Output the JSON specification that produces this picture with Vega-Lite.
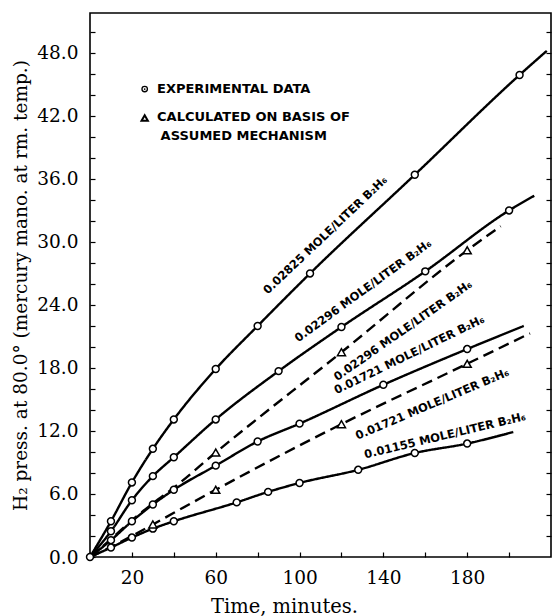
{
  "$schema": "https://vega.github.io/schema/vega-lite/v6.json",
  "width": 461,
  "height": 544,
  "autosize": {"type": "none"},
  "padding": {"left": 90, "top": 13, "right": 2, "bottom": 59},
  "background": "white",
  "config": {
    "view": {"stroke": "black", "strokeWidth": 1.6},
    "axis": {"grid": false, "domain": false, "tickColor": "black", "labelColor": "black", "titleColor": "black", "tickWidth": 1.2}
  },
  "datasets": {
    "fit": [
      {"curve": "A", "kind": "exp", "t": 0, "p": 0}, {"curve": "A", "kind": "exp", "t": 10, "p": 3.4}, {"curve": "A", "kind": "exp", "t": 20, "p": 7.1}, {"curve": "A", "kind": "exp", "t": 30, "p": 10.3}, {"curve": "A", "kind": "exp", "t": 40, "p": 13.1}, {"curve": "A", "kind": "exp", "t": 60, "p": 17.9}, {"curve": "A", "kind": "exp", "t": 80, "p": 22.0}, {"curve": "A", "kind": "exp", "t": 105, "p": 27.0}, {"curve": "A", "kind": "exp", "t": 155, "p": 36.4}, {"curve": "A", "kind": "exp", "t": 205, "p": 45.9}, {"curve": "A", "kind": "exp", "t": 218, "p": 48.2},
      {"curve": "B", "kind": "exp", "t": 0, "p": 0}, {"curve": "B", "kind": "exp", "t": 10, "p": 2.45}, {"curve": "B", "kind": "exp", "t": 20, "p": 5.4}, {"curve": "B", "kind": "exp", "t": 30, "p": 7.7}, {"curve": "B", "kind": "exp", "t": 40, "p": 9.5}, {"curve": "B", "kind": "exp", "t": 60, "p": 13.1}, {"curve": "B", "kind": "exp", "t": 90, "p": 17.7}, {"curve": "B", "kind": "exp", "t": 120, "p": 21.9}, {"curve": "B", "kind": "exp", "t": 160, "p": 27.2}, {"curve": "B", "kind": "exp", "t": 200, "p": 33.0}, {"curve": "B", "kind": "exp", "t": 212, "p": 34.4},
      {"curve": "C", "kind": "exp", "t": 0, "p": 0}, {"curve": "C", "kind": "exp", "t": 10, "p": 1.6}, {"curve": "C", "kind": "exp", "t": 20, "p": 3.4}, {"curve": "C", "kind": "exp", "t": 30, "p": 5.0}, {"curve": "C", "kind": "exp", "t": 40, "p": 6.4}, {"curve": "C", "kind": "exp", "t": 60, "p": 8.7}, {"curve": "C", "kind": "exp", "t": 80, "p": 11.0}, {"curve": "C", "kind": "exp", "t": 100, "p": 12.7}, {"curve": "C", "kind": "exp", "t": 140, "p": 16.4}, {"curve": "C", "kind": "exp", "t": 180, "p": 19.8}, {"curve": "C", "kind": "exp", "t": 207, "p": 22.0},
      {"curve": "D", "kind": "exp", "t": 0, "p": 0}, {"curve": "D", "kind": "exp", "t": 10, "p": 0.9}, {"curve": "D", "kind": "exp", "t": 20, "p": 1.85}, {"curve": "D", "kind": "exp", "t": 30, "p": 2.7}, {"curve": "D", "kind": "exp", "t": 40, "p": 3.4}, {"curve": "D", "kind": "exp", "t": 70, "p": 5.2}, {"curve": "D", "kind": "exp", "t": 85, "p": 6.2}, {"curve": "D", "kind": "exp", "t": 100, "p": 7.05}, {"curve": "D", "kind": "exp", "t": 128, "p": 8.3}, {"curve": "D", "kind": "exp", "t": 155, "p": 9.9}, {"curve": "D", "kind": "exp", "t": 180, "p": 10.8}, {"curve": "D", "kind": "exp", "t": 202, "p": 11.9},
      {"curve": "E", "kind": "calc", "t": 0, "p": 0}, {"curve": "E", "kind": "calc", "t": 10, "p": 1.7}, {"curve": "E", "kind": "calc", "t": 20, "p": 3.5}, {"curve": "E", "kind": "calc", "t": 30, "p": 5.1}, {"curve": "E", "kind": "calc", "t": 40, "p": 6.6}, {"curve": "E", "kind": "calc", "t": 60, "p": 9.95}, {"curve": "E", "kind": "calc", "t": 120, "p": 19.5}, {"curve": "E", "kind": "calc", "t": 180, "p": 29.2}, {"curve": "E", "kind": "calc", "t": 196, "p": 31.5},
      {"curve": "F", "kind": "calc", "t": 0, "p": 0}, {"curve": "F", "kind": "calc", "t": 10, "p": 0.95}, {"curve": "F", "kind": "calc", "t": 20, "p": 2.0}, {"curve": "F", "kind": "calc", "t": 30, "p": 3.1}, {"curve": "F", "kind": "calc", "t": 60, "p": 6.4}, {"curve": "F", "kind": "calc", "t": 120, "p": 12.65}, {"curve": "F", "kind": "calc", "t": 180, "p": 18.4}, {"curve": "F", "kind": "calc", "t": 210, "p": 21.3}
    ],
    "obs": [
      {"curve": "O", "kind": "exp", "t": 0, "p": 0},
      {"curve": "A", "kind": "exp", "t": 10, "p": 3.4}, {"curve": "A", "kind": "exp", "t": 20, "p": 7.1}, {"curve": "A", "kind": "exp", "t": 30, "p": 10.3}, {"curve": "A", "kind": "exp", "t": 40, "p": 13.1}, {"curve": "A", "kind": "exp", "t": 60, "p": 17.9}, {"curve": "A", "kind": "exp", "t": 80, "p": 22.0}, {"curve": "A", "kind": "exp", "t": 105, "p": 27.0}, {"curve": "A", "kind": "exp", "t": 155, "p": 36.4}, {"curve": "A", "kind": "exp", "t": 205, "p": 45.9},
      {"curve": "B", "kind": "exp", "t": 10, "p": 2.45}, {"curve": "B", "kind": "exp", "t": 20, "p": 5.4}, {"curve": "B", "kind": "exp", "t": 30, "p": 7.7}, {"curve": "B", "kind": "exp", "t": 40, "p": 9.5}, {"curve": "B", "kind": "exp", "t": 60, "p": 13.1}, {"curve": "B", "kind": "exp", "t": 90, "p": 17.7}, {"curve": "B", "kind": "exp", "t": 120, "p": 21.9}, {"curve": "B", "kind": "exp", "t": 160, "p": 27.2}, {"curve": "B", "kind": "exp", "t": 200, "p": 33.0},
      {"curve": "C", "kind": "exp", "t": 10, "p": 1.6}, {"curve": "C", "kind": "exp", "t": 20, "p": 3.4}, {"curve": "C", "kind": "exp", "t": 30, "p": 5.0}, {"curve": "C", "kind": "exp", "t": 40, "p": 6.4}, {"curve": "C", "kind": "exp", "t": 60, "p": 8.7}, {"curve": "C", "kind": "exp", "t": 80, "p": 11.0}, {"curve": "C", "kind": "exp", "t": 100, "p": 12.7}, {"curve": "C", "kind": "exp", "t": 140, "p": 16.4}, {"curve": "C", "kind": "exp", "t": 180, "p": 19.8},
      {"curve": "D", "kind": "exp", "t": 10, "p": 0.9}, {"curve": "D", "kind": "exp", "t": 20, "p": 1.85}, {"curve": "D", "kind": "exp", "t": 30, "p": 2.7}, {"curve": "D", "kind": "exp", "t": 40, "p": 3.4}, {"curve": "D", "kind": "exp", "t": 70, "p": 5.2}, {"curve": "D", "kind": "exp", "t": 85, "p": 6.2}, {"curve": "D", "kind": "exp", "t": 100, "p": 7.05}, {"curve": "D", "kind": "exp", "t": 128, "p": 8.3}, {"curve": "D", "kind": "exp", "t": 155, "p": 9.9}, {"curve": "D", "kind": "exp", "t": 180, "p": 10.8},
      {"curve": "E", "kind": "calc", "t": 60, "p": 9.95}, {"curve": "E", "kind": "calc", "t": 120, "p": 19.5}, {"curve": "E", "kind": "calc", "t": 180, "p": 29.2},
      {"curve": "F", "kind": "calc", "t": 30, "p": 3.1}, {"curve": "F", "kind": "calc", "t": 60, "p": 6.4}, {"curve": "F", "kind": "calc", "t": 120, "p": 12.65}, {"curve": "F", "kind": "calc", "t": 180, "p": 18.4}
    ],
    "notes": [
      {"id": "A", "text": "0.02825 MOLE/LITER B₂H₆", "t": 112.5, "p": 30.6},
      {"id": "B", "text": "0.02296 MOLE/LITER B₂H₆", "t": 130.5, "p": 25.3},
      {"id": "E", "text": "0.02296 MOLE/LITER B₂H₆", "t": 149.5, "p": 21.5},
      {"id": "C", "text": "0.01721 MOLE/LITER B₂H₆", "t": 152.5, "p": 19.2},
      {"id": "F", "text": "0.01721 MOLE/LITER B₂H₆", "t": 163.5, "p": 14.5},
      {"id": "D", "text": "0.01155 MOLE/LITER B₂H₆", "t": 169.5, "p": 11.5}
    ],
    "key": [
      {"kind": "exp", "text": "EXPERIMENTAL DATA", "t": 32, "p": 44.56},
      {"kind": "calc", "text": "CALCULATED ON BASIS OF", "t": 32, "p": 41.9},
      {"kind": "calc2", "text": "ASSUMED MECHANISM", "t": 33.7, "p": 40.05}
    ],
    "keysym": [
      {"kind": "exp", "t": 26.1, "p": 44.56},
      {"kind": "calc", "t": 26.1, "p": 41.8}
    ]
  },
  "layer": [
    {
      "data": {"name": "fit"},
      "mark": {"type": "line", "color": "black", "strokeWidth": 2.4, "interpolate": "monotone"},
      "encoding": {
        "x": {"field": "t", "type": "quantitative", "scale": {"domain": [0, 220], "nice": false, "zero": false},
          "axis": {"values": [0, 10, 20, 30, 40, 50, 60, 70, 80, 90, 100, 110, 120, 130, 140, 150, 160, 170, 180, 190, 200, 210],
            "labelExpr": "indexof([20,60,100,140,180], datum.value) >= 0 ? datum.label : ''",
            "tickSize": -5, "labelPadding": 25, "labelBaseline": "middle", "labelFont": "DejaVu Serif", "labelFontSize": 18.5,
            "labelFlush": false, "labelOverlap": false,
            "title": "Time, minutes.", "titleFont": "DejaVu Serif", "titleFontSize": 19.5, "titleFontWeight": "normal",
            "titleX": 194, "titleY": 49, "titleBaseline": "middle", "titleAlign": "center"}},
        "y": {"field": "p", "type": "quantitative", "scale": {"domain": [0, 51.8], "nice": false, "zero": false},
          "axis": {"values": [0, 2, 4, 6, 8, 10, 12, 14, 16, 18, 20, 22, 24, 26, 28, 30, 32, 34, 36, 38, 40, 42, 44, 46, 48, 50],
            "format": ".1f",
            "labelExpr": "datum.value % 6 == 0 ? datum.label : ''",
            "tickSize": -5, "labelPadding": 17, "labelFont": "DejaVu Serif", "labelFontSize": 18.5,
            "labelFlush": false, "labelOverlap": false,
            "title": "H₂ press. at 80.0° (mercury mano. at rm. temp.)", "titleFont": "DejaVu Serif", "titleFontSize": 18.5, "titleFontWeight": "normal",
            "titleX": -70, "titleY": 272, "titleBaseline": "middle", "titleAlign": "center", "titleAngle": 270}},
        "detail": {"field": "curve"},
        "strokeDash": {"field": "kind", "type": "nominal", "scale": {"domain": ["exp", "calc"], "range": [[1, 0], [11, 6]]}, "legend": null}
      }
    },
    {
      "data": {"name": "obs"},
      "transform": [{"filter": "datum.kind == 'exp'"}],
      "mark": {"type": "point", "shape": "circle", "filled": true, "fill": "white", "stroke": "black", "strokeWidth": 1.5, "size": 48, "opacity": 1},
      "encoding": {
        "x": {"field": "t", "type": "quantitative", "scale": {"domain": [0, 220], "nice": false, "zero": false}},
        "y": {"field": "p", "type": "quantitative", "scale": {"domain": [0, 51.8], "nice": false, "zero": false}, "axis": null}
      }
    },
    {
      "data": {"name": "obs"},
      "transform": [{"filter": "datum.kind == 'calc'"}],
      "mark": {"type": "point", "shape": "triangle-up", "filled": true, "fill": "white", "stroke": "black", "strokeWidth": 1.5, "size": 65, "opacity": 1},
      "encoding": {
        "x": {"field": "t", "type": "quantitative", "scale": {"domain": [0, 220], "nice": false, "zero": false}},
        "y": {"field": "p", "type": "quantitative", "scale": {"domain": [0, 51.8], "nice": false, "zero": false}, "axis": null}
      }
    },
    {
      "data": {"name": "keysym"},
      "transform": [{"filter": "datum.kind == 'exp'"}],
      "mark": {"type": "point", "shape": "circle", "filled": true, "fill": "white", "stroke": "black", "strokeWidth": 1.3, "size": 30, "opacity": 1},
      "encoding": {
        "x": {"field": "t", "type": "quantitative", "scale": {"domain": [0, 220], "nice": false, "zero": false}},
        "y": {"field": "p", "type": "quantitative", "scale": {"domain": [0, 51.8], "nice": false, "zero": false}, "axis": null}
      }
    },
    {
      "data": {"name": "keysym"},
      "transform": [{"filter": "datum.kind == 'exp'"}],
      "mark": {"type": "point", "shape": "circle", "filled": true, "color": "black", "size": 3, "opacity": 1},
      "encoding": {
        "x": {"field": "t", "type": "quantitative", "scale": {"domain": [0, 220], "nice": false, "zero": false}},
        "y": {"field": "p", "type": "quantitative", "scale": {"domain": [0, 51.8], "nice": false, "zero": false}, "axis": null}
      }
    },
    {
      "data": {"name": "keysym"},
      "transform": [{"filter": "datum.kind == 'calc'"}],
      "mark": {"type": "point", "shape": "triangle-up", "filled": true, "fill": "white", "stroke": "black", "strokeWidth": 2, "size": 40, "opacity": 1},
      "encoding": {
        "x": {"field": "t", "type": "quantitative", "scale": {"domain": [0, 220], "nice": false, "zero": false}},
        "y": {"field": "p", "type": "quantitative", "scale": {"domain": [0, 51.8], "nice": false, "zero": false}, "axis": null}
      }
    },
    {
      "data": {"name": "key"},
      "mark": {"type": "text", "align": "left", "baseline": "middle", "font": "DejaVu Sans", "fontWeight": "bold", "fontSize": 13, "color": "black"},
      "encoding": {
        "x": {"field": "t", "type": "quantitative", "scale": {"domain": [0, 220], "nice": false, "zero": false}},
        "y": {"field": "p", "type": "quantitative", "scale": {"domain": [0, 51.8], "nice": false, "zero": false}, "axis": null},
        "text": {"field": "text"}
      }
    },
    {
      "data": {"name": "notes"},
      "transform": [{"filter": "datum.id == 'A'"}],
      "mark": {"type": "text", "align": "center", "baseline": "middle", "font": "DejaVu Sans", "fontWeight": "bold", "fontSize": 11.5, "color": "black", "angle": 316.5},
      "encoding": {
        "x": {"field": "t", "type": "quantitative", "scale": {"domain": [0, 220], "nice": false, "zero": false}},
        "y": {"field": "p", "type": "quantitative", "scale": {"domain": [0, 51.8], "nice": false, "zero": false}, "axis": null},
        "text": {"field": "text"}
      }
    },
    {
      "data": {"name": "notes"},
      "transform": [{"filter": "datum.id == 'B'"}],
      "mark": {"type": "text", "align": "center", "baseline": "middle", "font": "DejaVu Sans", "fontWeight": "bold", "fontSize": 11.5, "color": "black", "angle": 324},
      "encoding": {
        "x": {"field": "t", "type": "quantitative", "scale": {"domain": [0, 220], "nice": false, "zero": false}},
        "y": {"field": "p", "type": "quantitative", "scale": {"domain": [0, 51.8], "nice": false, "zero": false}, "axis": null},
        "text": {"field": "text"}
      }
    },
    {
      "data": {"name": "notes"},
      "transform": [{"filter": "datum.id == 'E'"}],
      "mark": {"type": "text", "align": "center", "baseline": "middle", "font": "DejaVu Sans", "fontWeight": "bold", "fontSize": 11.5, "color": "black", "angle": 325},
      "encoding": {
        "x": {"field": "t", "type": "quantitative", "scale": {"domain": [0, 220], "nice": false, "zero": false}},
        "y": {"field": "p", "type": "quantitative", "scale": {"domain": [0, 51.8], "nice": false, "zero": false}, "axis": null},
        "text": {"field": "text"}
      }
    },
    {
      "data": {"name": "notes"},
      "transform": [{"filter": "datum.id == 'C'"}],
      "mark": {"type": "text", "align": "center", "baseline": "middle", "font": "DejaVu Sans", "fontWeight": "bold", "fontSize": 11.5, "color": "black", "angle": 334},
      "encoding": {
        "x": {"field": "t", "type": "quantitative", "scale": {"domain": [0, 220], "nice": false, "zero": false}},
        "y": {"field": "p", "type": "quantitative", "scale": {"domain": [0, 51.8], "nice": false, "zero": false}, "axis": null},
        "text": {"field": "text"}
      }
    },
    {
      "data": {"name": "notes"},
      "transform": [{"filter": "datum.id == 'F'"}],
      "mark": {"type": "text", "align": "center", "baseline": "middle", "font": "DejaVu Sans", "fontWeight": "bold", "fontSize": 11.5, "color": "black", "angle": 337},
      "encoding": {
        "x": {"field": "t", "type": "quantitative", "scale": {"domain": [0, 220], "nice": false, "zero": false}},
        "y": {"field": "p", "type": "quantitative", "scale": {"domain": [0, 51.8], "nice": false, "zero": false}, "axis": null},
        "text": {"field": "text"}
      }
    },
    {
      "data": {"name": "notes"},
      "transform": [{"filter": "datum.id == 'D'"}],
      "mark": {"type": "text", "align": "center", "baseline": "middle", "font": "DejaVu Sans", "fontWeight": "bold", "fontSize": 11.5, "color": "black", "angle": 346.5},
      "encoding": {
        "x": {"field": "t", "type": "quantitative", "scale": {"domain": [0, 220], "nice": false, "zero": false}},
        "y": {"field": "p", "type": "quantitative", "scale": {"domain": [0, 51.8], "nice": false, "zero": false}, "axis": null},
        "text": {"field": "text"}
      }
    },
    {
      "data": {"name": "obs"},
      "mark": {"type": "point", "opacity": 0},
      "encoding": {
        "x": {"field": "t", "type": "quantitative", "scale": {"domain": [0, 220], "nice": false, "zero": false}},
        "y": {"field": "p", "type": "quantitative", "scale": {"domain": [0, 51.8], "nice": false, "zero": false},
          "axis": {"orient": "right", "values": [2, 4, 6, 8, 10, 12, 14, 16, 18, 20, 22, 24, 26, 28, 30, 32, 34, 36, 38, 40, 42, 44, 46, 48, 50],
            "labels": false, "tickSize": -5, "title": null}}
      }
    }
  ],
  "resolve": {"axis": {"y": "independent"}}
}
